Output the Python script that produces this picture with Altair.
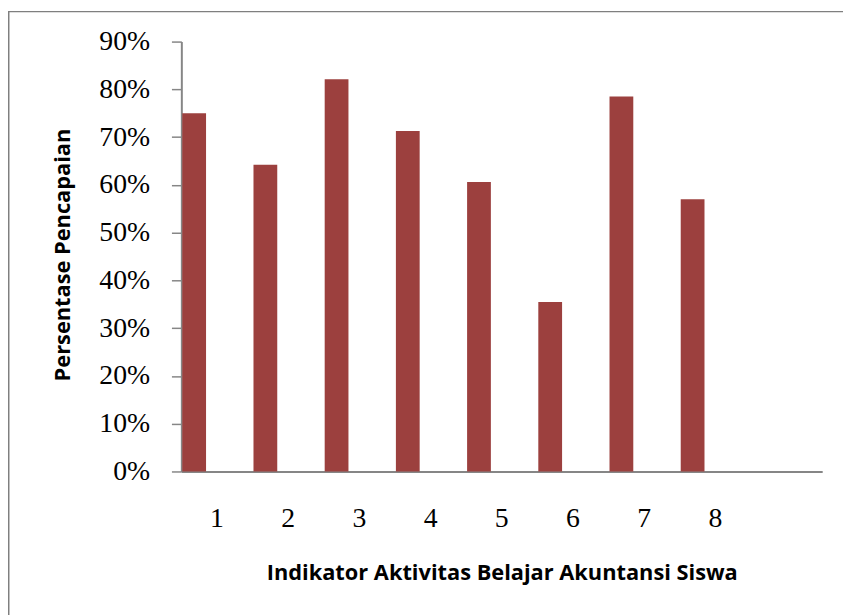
import altair as alt
import pandas as pd

categories = ["1", "2", "3", "4", "5", "6", "7", "8"]
slots = categories + ["9"]
values = [0.75, 0.642, 0.821, 0.713, 0.606, 0.355, 0.785, 0.570]
y_ticks = [0.0, 0.1, 0.2, 0.3, 0.4, 0.5, 0.6, 0.7, 0.8, 0.9]

df = pd.DataFrame({"Indikator": categories, "Persen": values})

GRAY = "#868686"
BAR = "#9C403E"

bars = alt.Chart(df).mark_bar(width=24, xOffset=-23, color=BAR).encode(
    x=alt.X(
        "Indikator:N",
        sort=slots,
        scale=alt.Scale(domain=slots, paddingInner=0, paddingOuter=0),
        axis=alt.Axis(
            title="Indikator Aktivitas Belajar Akuntansi Siswa",
            labelAngle=0,
            labelFont="Liberation Serif",
            labelFontSize=28,
            labelColor="#000000",
            labelPadding=34,
            labelExpr="datum.value == '9' ? '' : datum.value",
            ticks=False,
            tickSize=0,
            domainColor=GRAY,
            domainWidth=2,
            titleFont="Open Sans",
            titleFontWeight="bold",
            titleFontSize=22,
            titleColor="#000000",
            titleX=323.5,
            titleY=102,
            titleBaseline="middle",
            titleAlign="center",
        ),
    ),
    y=alt.Y(
        "Persen:Q",
        scale=alt.Scale(domain=[0, 0.9], nice=False),
        axis=alt.Axis(
            title="Persentase Pencapaian",
            values=y_ticks,
            format=".0%",
            labelFont="Liberation Serif",
            labelFontSize=28,
            labelColor="#000000",
            labelPadding=22,
            tickSize=10,
            tickColor=GRAY,
            tickWidth=1.5,
            domainColor=GRAY,
            domainWidth=2,
            grid=False,
            titleFont="Open Sans",
            titleFontWeight="bold",
            titleFontSize=22,
            titleColor="#000000",
            titleX=-119.5,
            titleY=215,
            titleAngle=-90,
            titleBaseline="middle",
            titleAlign="center",
        ),
    ),
)

border = alt.Chart(pd.DataFrame({"b": [0]})).mark_rect(
    fill=None, stroke="#7F7F7F", strokeWidth=1.5
).encode(
    x=alt.value(-174.25),
    y=alt.value(-30.25),
    x2=alt.value(1500),
    y2=alt.value(1500),
)

chart = alt.layer(border, bars).properties(
    width=647,
    height=434,
    autosize=alt.AutoSizeParams(type="none"),
    padding={"left": 175, "top": 31, "right": 21, "bottom": 142},
    background="#FFFFFF",
).configure_view(stroke=None)

chart.save("out.html", embed_options={"renderer": "svg", "actions": False})
